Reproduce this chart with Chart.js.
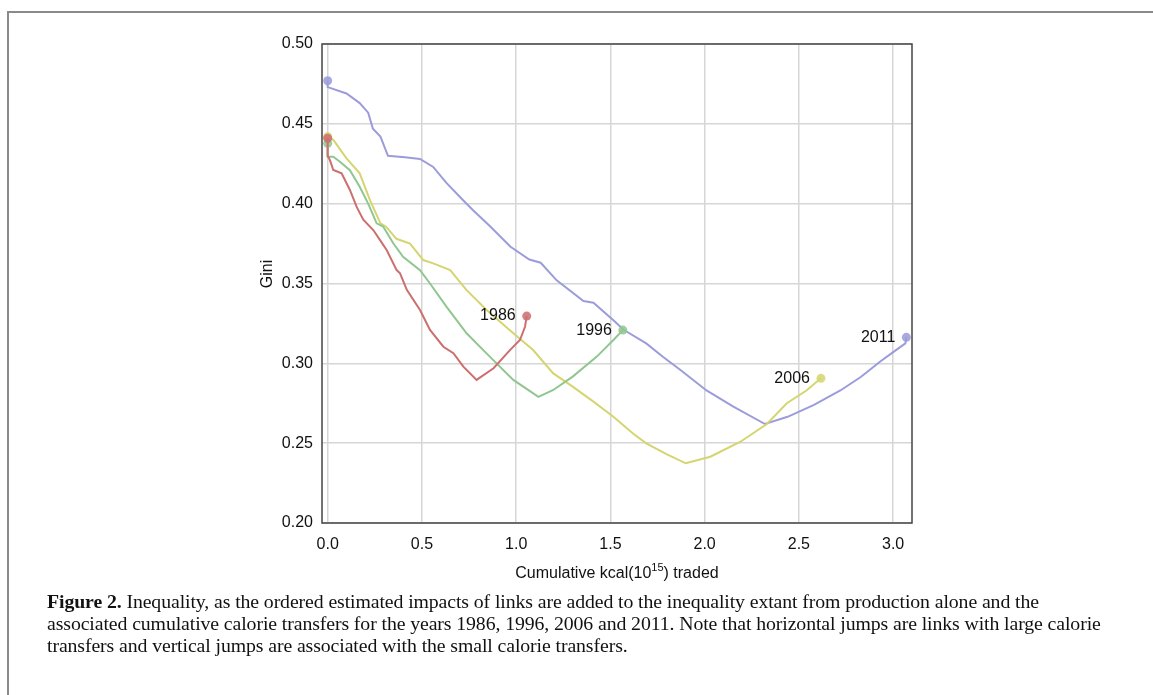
<!DOCTYPE html>
<html>
<head>
<meta charset="utf-8">
<script src="https://cdn.jsdelivr.net/npm/chart.js@4.4.0/dist/chart.umd.min.js"></script>
<style>
  html, body { margin: 0; padding: 0; background: #fff; }
  #wrap { position: relative; width: 1153px; height: 695px; overflow: hidden; }
  #frame { position: absolute; left: 7px; top: 11px; width: 1200px; height: 800px;
    border-top: 2px solid #8a8a8a; border-left: 2px solid #8a8a8a; }
  #cv { position: absolute; left: 0; top: 0; }
  #caption { position: absolute; left: 47px; top: 590px; white-space: nowrap;
    font-family: "Liberation Serif", "DejaVu Serif", serif; font-size: 19.8px; line-height: 22px; color: #111;
    letter-spacing: -0.1px; }
</style>
</head>
<body>
<div id="wrap">
  <div id="frame"></div>
  <canvas id="cv" width="1153" height="695"></canvas>
  <div id="caption"><b>Figure 2.</b> Inequality, as the ordered estimated impacts of links are added to the inequality extant from production alone and the<br>associated cumulative calorie transfers for the years 1986, 1996, 2006 and 2011. Note that horizontal jumps are links with large calorie<br>transfers and vertical jumps are associated with the small calorie transfers.</div>
</div>
<script>
let years = ['1986', '1996', '2006', '2011'];
let colors = ['#cc6f6f', '#90c690', '#d5d570', '#9c9cdc'];
let xTicks = [0, 0.5, 1.0, 1.5, 2.0, 2.5, 3.0];
let yTicks = [0.20, 0.25, 0.30, 0.35, 0.40, 0.45, 0.50];

let kcal1986 = [0, 0, 0.012, 0.03, 0.074, 0.118, 0.154, 0.189, 0.242, 0.278, 0.313, 0.366, 0.384, 0.42, 0.49, 0.543, 0.614, 0.667, 0.72, 0.79, 0.88, 0.967, 1.02, 1.047, 1.056];
let gini1986 = [0.441, 0.430, 0.4273, 0.4211, 0.419, 0.4086, 0.398, 0.390, 0.3835, 0.3772, 0.371, 0.3584, 0.3564, 0.346, 0.3334, 0.3209, 0.3104, 0.3063, 0.2979, 0.2896, 0.2969, 0.3083, 0.3146, 0.3229, 0.3296];

let kcal1996 = [0, 0, 0.03, 0.065, 0.118, 0.17, 0.215, 0.26, 0.295, 0.348, 0.40, 0.49, 0.543, 0.63, 0.737, 0.86, 0.985, 1.118, 1.197, 1.30, 1.428, 1.516, 1.566];
let gini1996 = [0.4378, 0.4294, 0.4294, 0.4263, 0.421, 0.4106, 0.400, 0.3877, 0.3856, 0.3752, 0.3667, 0.3584, 0.350, 0.3355, 0.3188, 0.3042, 0.2896, 0.279, 0.2833, 0.2917, 0.3042, 0.3146, 0.3208];

let kcal2006 = [0, 0.03, 0.10, 0.17, 0.225, 0.28, 0.31, 0.365, 0.437, 0.507, 0.56, 0.65, 0.736, 0.843, 0.985, 1.09, 1.197, 1.30, 1.41, 1.516, 1.62, 1.69, 1.80, 1.90, 2.03, 2.19, 2.33, 2.436, 2.54, 2.617];
let gini2006 = [0.442, 0.44, 0.4284, 0.419, 0.402, 0.3877, 0.3856, 0.378, 0.375, 0.3647, 0.3626, 0.3584, 0.346, 0.3334, 0.3188, 0.3083, 0.2937, 0.2854, 0.276, 0.2666, 0.256, 0.2499, 0.243, 0.2374, 0.2415, 0.2509, 0.262, 0.275, 0.283, 0.2906];

let kcal2011 = [0, 0, 0.10, 0.17, 0.215, 0.24, 0.28, 0.32, 0.41, 0.49, 0.56, 0.63, 0.72, 0.77, 0.86, 0.97, 1.07, 1.13, 1.215, 1.357, 1.41, 1.516, 1.57, 1.69, 1.78, 1.87, 2.01, 2.15, 2.32, 2.44, 2.58, 2.72, 2.83, 2.93, 3.0, 3.065, 3.07];
let gini2011 = [0.477, 0.473, 0.469, 0.463, 0.457, 0.447, 0.442, 0.430, 0.429, 0.428, 0.423, 0.413, 0.402, 0.396, 0.386, 0.373, 0.365, 0.363, 0.352, 0.339, 0.338, 0.327, 0.321, 0.3125, 0.304, 0.296, 0.283, 0.273, 0.262, 0.2665, 0.274, 0.283, 0.2916, 0.301, 0.307, 0.3125, 0.3163];

let kcalAll = [kcal1986, kcal1996, kcal2006, kcal2011];
let giniAll = [gini1986, gini1996, gini2006, gini2011];

function pts(xs, ys){
  let out = [];
  for (let i = 0; i < xs.length; i++) {
    out.push({x: xs[i], y: ys[i]});
  }
  return out;
}

let datasets = [];
for (let i = 0; i < years.length; i++) {
  let n = kcalAll[i].length;
  datasets.push({
    label: years[i],
    data: pts(kcalAll[i], giniAll[i]),
    showLine: true,
    borderColor: colors[i],
    borderWidth: 2,
    tension: 0,
    pointRadius: function(ctx){ return (ctx.dataIndex === 0 || ctx.dataIndex === n - 1) ? 4.5 : 0; },
    pointBackgroundColor: colors[i] + 'dd',
    pointBorderWidth: 0
  });
}

let fam = '"Liberation Sans", Arial, sans-serif';

// year labels next to the end point of each line
let endLabels = {
  id: 'endLabels',
  afterDatasetsDraw(chart){
    let c = chart.ctx;
    c.save();
    c.font = '16px ' + fam;
    c.fillStyle = '#111';
    c.textAlign = 'right';
    c.textBaseline = 'middle';
    chart.data.datasets.forEach(function(ds){
      let last = ds.data[ds.data.length - 1];
      let px = chart.scales.x.getPixelForValue(last.x);
      let py = chart.scales.y.getPixelForValue(last.y);
      c.fillText(ds.label, px - 11, py);
    });
    c.restore();
  }
};

// dark frame round the plot area + axis titles (x title has a superscript)
let boxLine = {
  id: 'boxLine',
  afterDraw(chart){
    let a = chart.chartArea;
    let c = chart.ctx;
    c.save();
    c.strokeStyle = '#444';
    c.lineWidth = 1.5;
    c.strokeRect(a.left, a.top, a.right - a.left, a.bottom - a.top);

    c.fillStyle = '#111';
    c.textBaseline = 'alphabetic';
    c.textAlign = 'left';
    let p1 = 'Cumulative kcal(10', sup = '15', p2 = ') traded';
    c.font = '16px ' + fam;
    let w1 = c.measureText(p1).width, w3 = c.measureText(p2).width;
    c.font = '11px ' + fam;
    let w2 = c.measureText(sup).width;
    let x0 = (a.left + a.right) / 2 - (w1 + w2 + w3) / 2;
    let base = 578;
    c.font = '16px ' + fam;
    c.fillText(p1, x0, base);
    c.fillText(p2, x0 + w1 + w2, base);
    c.font = '11px ' + fam;
    c.fillText(sup, x0 + w1, base - 7);

    c.translate(268, 274);
    c.rotate(-Math.PI / 2);
    c.font = '16px ' + fam;
    c.textAlign = 'center';
    c.textBaseline = 'middle';
    c.fillText('Gini', 0, 0);
    c.restore();
  }
};

let font = {family: fam, size: 16};

new Chart(document.getElementById('cv').getContext('2d'), {
  type: 'scatter',
  data: {datasets: datasets},
  plugins: [endLabels, boxLine],
  options: {
    responsive: false,
    animation: false,
    layout: {padding: {left: 252, top: 44, right: 241, bottom: 112}},
    plugins: {legend: {display: false}, tooltip: {enabled: false}},
    scales: {
      x: {
        type: 'linear',
        min: -0.03,
        max: 3.1,
        afterBuildTicks: function(s){ s.ticks = xTicks.map(v => ({value: v})); },
        afterFit: function(s){ s.height = 60; },
        grid: {color: '#d6d6d6', lineWidth: 1.5, drawTicks: false},
        border: {display: false},
        ticks: {font: font, color: '#111', padding: 12, maxRotation: 0,
          callback: function(v){ return Number(v).toFixed(1); }}
      },
      y: {
        type: 'linear',
        min: 0.20,
        max: 0.50,
        afterBuildTicks: function(s){ s.ticks = yTicks.map(v => ({value: v})); },
        afterFit: function(s){ s.width = 70; },
        grid: {color: '#d6d6d6', lineWidth: 1.5, drawTicks: false},
        border: {display: false},
        ticks: {font: font, color: '#111', padding: 9,
          callback: function(v){ return Number(v).toFixed(2); }}
      }
    }
  }
});
</script>
</body>
</html>
